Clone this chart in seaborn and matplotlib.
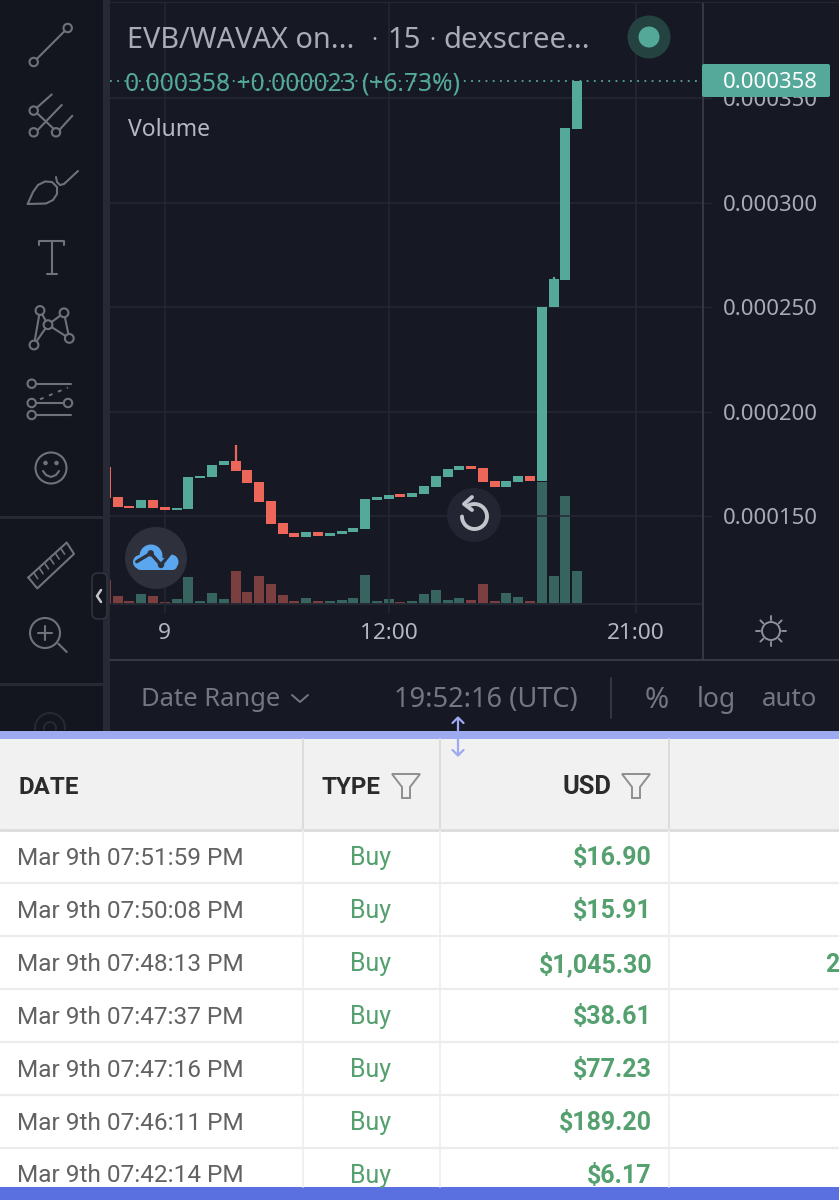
import numpy as np
import pandas as pd
import matplotlib
matplotlib.use("Agg")
import matplotlib.pyplot as plt
from matplotlib.patches import Circle, FancyBboxPatch, Polygon, Rectangle
import seaborn as sns

# candles, price units; index -1 is cut by the left edge
candle_idx = np.arange(-1, 40)
opens = [173.6, 158.9, 154.6, 153.8, 157.5, 154.3, 152.7, 153.2, 168.2, 168.8, 174.2,
         176.2, 172.0, 166.1, 157.0, 146.8, 142.0, 139.8, 142.3, 140.4, 141.4, 142.2,
         143.9, 157.6, 158.3, 160.4, 159.1, 160.5, 163.9, 168.8, 172.0, 173.8, 173.0,
         166.7, 163.9, 166.4, 169.0, 166.6, 250.0, 263.0, 335.4]
closes = [158.8, 154.1, 153.7, 157.5, 153.8, 152.9, 153.8, 168.7, 169.3, 174.6, 176.3,
          171.7, 165.8, 156.7, 146.3, 141.5, 139.8, 142.3, 140.4, 141.7, 142.7, 144.3,
          158.3, 158.9, 160.2, 159.1, 160.8, 164.3, 169.3, 172.3, 173.8, 172.5, 166.4,
          163.9, 166.7, 169.0, 166.6, 250.0, 263.3, 335.7, 358.0]
wick_idx = [10, 37]
wick_high = [184.0, 264.6]
volumes = [23.7, 8.3, 2.7, 9.7, 8.3, 2.3, 5.3, 26.7, 2.7, 10.7, 5.3, 33.3, 12.3, 28.0,
           20.0, 9.0, 2.7, 6.0, 3.3, 2.7, 4.3, 6.0, 29.3, 3.3, 5.3, 2.3, 2.7, 10.0, 13.7,
           4.3, 6.0, 4.3, 20.0, 2.7, 11.0, 6.7, 2.7, 122.3, 27.7, 108.3, 32.7]

price_ticks = [150, 200, 250, 300, 350]
price_labels = ["0.000150", "0.000200", "0.000250", "0.000300", "0.000350"]
time_ticks = [4, 23, 44]
time_labels = ["9", "12:00", "21:00"]
last_price = 358

dates = ["Mar 9th 07:51:59 PM", "Mar 9th 07:50:08 PM", "Mar 9th 07:48:13 PM",
         "Mar 9th 07:47:37 PM", "Mar 9th 07:47:16 PM", "Mar 9th 07:46:11 PM",
         "Mar 9th 07:42:14 PM"]
usd = ["$16.90", "$15.91", "$1,045.30", "$38.61", "$77.23", "$189.20", "$6.17"]

BG = "#161924"
BAR = "#13161f"
GRID = "#252833"
LINE = "#3c3f4a"
GREEN = "#54a99b"
RED = "#ec6659"
VOL_GREEN = "#37645f"
VOL_RED = "#7c3f40"
ICON = "#6f727b"
TEXT = "#a9acb6"
STRIP = "#74777f"
BUY = "#55a06f"
W, H = 839, 1200

sns.set_theme(style="dark")
plt.rcParams["font.family"] = ["Noto Sans", "DejaVu Sans"]

fig = plt.figure(figsize=(W / 100, H / 100), dpi=100, facecolor=BG)

# pixel box of the chart: x 110..703, y 3..613
ax = fig.add_axes([110 / W, 1 - 613 / H, 593 / W, 610 / H])
vol = ax.twinx()
ax.set_zorder(vol.get_zorder() + 1)
ax.patch.set_visible(False)
vol.set_facecolor(BG)

df = pd.DataFrame({"idx": candle_idx, "open": opens, "close": closes, "volume": volumes})
df["up"] = df["close"] >= df["open"]
df["low"] = df[["open", "close"]].min(axis=1)
df["height"] = (df["close"] - df["open"]).abs()

for up, body_col, vol_col in [(True, GREEN, VOL_GREEN), (False, RED, VOL_RED)]:
    part = df[df["up"] == up]
    sns.barplot(data=part, x="idx", y="volume", native_scale=True, color=vol_col,
                saturation=1, width=0.85, errorbar=None, linewidth=0, ax=vol)
    sns.barplot(data=part, x="idx", y="height", bottom=part["low"].values, native_scale=True,
                color=body_col, saturation=1, width=0.85, errorbar=None, linewidth=0, ax=ax)

wick_low = df.set_index("idx").loc[wick_idx, ["open", "close"]].max(axis=1)
wick_cols = [GREEN if df.set_index("idx").loc[i, "up"] else RED for i in wick_idx]
ax.vlines(wick_idx, wick_low, wick_high, colors=wick_cols, lw=1.6)

ax.axhline(last_price, color=GREEN, lw=1.3, ls=(0, (1, 3)), zorder=5)
vol.axhline(0, color=GRID, lw=1.4)

ax.set_xlim(-0.654, 49.68)
ax.set_ylim(103.6, 395.5)
vol.set_ylim(-9, 601)
vol.set_xlabel("")
vol.set_ylabel("")
vol.set_yticks([])
ax.set_xlabel("")
ax.set_ylabel("")

ax.yaxis.tick_right()
ax.set_yticks(price_ticks)
ax.set_yticklabels(price_labels)
ax.set_xticks(time_ticks)
ax.set_xticklabels(time_labels)
ax.grid(True, color=GRID, lw=1.1)
ax.set_axisbelow(True)
ax.tick_params(axis="y", right=True, left=False, length=6.5, width=1, color=GRID, pad=7.5,
               labelcolor=TEXT, labelsize=15.9)
ax.tick_params(axis="x", length=0, pad=7.5, labelcolor="#b4b7c0", labelsize=16.3)
for s in ax.spines.values():
    s.set_visible(False)
for s in vol.spines.values():
    s.set_visible(False)
ax.spines["right"].set_visible(True)
ax.spines["right"].set_color(LINE)
ax.spines["right"].set_linewidth(1.2)

# everything around the chart, in pixel coordinates
ui = fig.add_axes([0, 0, 1, 1], zorder=10)
ui.set_xlim(0, W)
ui.set_ylim(H, 0)
ui.axis("off")


def seg(pts, col=ICON, lw=1.5, **kw):
    pts = np.array(pts)
    ui.plot(pts[:, 0], pts[:, 1], color=col, lw=lw, solid_capstyle="round", **kw)


def ring(x, y, r, col=ICON, lw=1.5, fill="none"):
    ui.add_patch(Circle((x, y), r, ec=col, fc=fill, lw=lw, zorder=3))


def rect(x0, y0, x1, y1, col, **kw):
    ui.add_patch(Rectangle((x0, y0), x1 - x0, y1 - y0, fc=col, ec="none", **kw))


# chrome behind the tools
rect(0, 0, 103, 731, BAR)
rect(103, 0, 110, 731, "#272a35")
rect(0, 516, 103, 519, "#272a35")
rect(0, 683, 103, 686, "#272a35")
seg([(110, 660), (839, 660)], LINE, 1.2)
seg([(703, 613), (703, 660)], LINE, 1.2)
seg([(110, 2), (839, 2)], GRID, 1)
seg([(611, 678), (611, 718)], LINE, 1.2)

# toolbar icons
seg([(33.7, 62), (67.7, 28)])
ring(33.7, 62, 4.2, fill=BAR)
ring(67.7, 28, 4.2, fill=BAR)

seg([(36.7, 107.8), (51.7, 94.5)])
seg([(37.7, 130), (61.7, 105)])
seg([(59.3, 130), (72.3, 115.8)])
seg([(37.3, 113.4), (53.3, 128.5)])
for cx, cy in [(33.7, 110.6), (33.7, 132.3), (56, 132.3)]:
    ring(cx, cy, 4.2, fill=BAR)

seg([(27.7, 204), (33, 192), (38, 185), (45, 181.5), (52, 182), (57, 187), (57, 194),
     (53, 200), (46, 203.5), (27.7, 204)])
seg([(56, 177), (57, 182), (60, 185), (64, 184), (78, 171)])

seg([(39.3, 245), (39.3, 241), (64.3, 241), (64.3, 245)])
seg([(51.7, 241), (51.7, 274)])
seg([(46.7, 274), (56.7, 274)])

star = {"a": (40, 310.5), "b": (64, 312.8), "c": (48, 324.7), "d": (34, 345), "e": (69.3, 338.4)}
for p, q in ["ac", "ad", "cd", "cb", "be", "ce"]:
    seg([star[p], star[q]])
for cx, cy in star.values():
    ring(cx, cy, 4.4, fill=BAR)

seg([(31.7, 383.7), (70.7, 383.7)])
seg([(31.7, 403), (68, 403)])
seg([(31.7, 415), (70.7, 415)])
ui.plot([40, 68], [399.3, 387.5], color=ICON, lw=1.4, ls=(0, (2, 3)))
for cx, cy in [(31.7, 383.7), (31.7, 403), (68, 403), (31.7, 415)]:
    ring(cx, cy, 4.2, fill=BAR)

ring(51, 468, 15.5)
ring(45.5, 463, 1.2, fill=ICON)
ring(56.5, 463, 1.2, fill=ICON)
smile_x = [43, 46, 51, 56, 59]
smile_y = [471, 475, 477, 475, 471]
seg(list(zip(smile_x, smile_y)))

seg([(28.3, 577.5), (66.7, 542.5), (74, 553.9), (37.3, 588.4), (28.3, 577.5)])
for t in [0.14, 0.28, 0.42, 0.56, 0.7, 0.84]:
    bx, by = 28.3 + 38.4 * t, 577.5 - 35 * t
    seg([(bx, by), (bx + 4, by + 6)], lw=1.2)

ring(45, 633, 15)
seg([(58.3, 643.7), (66.7, 652)])
seg([(38, 633), (52, 633)])
seg([(45, 626), (45, 640)])

# half hidden tool icon, cut by the table
for r in [15, 6]:
    ang = np.linspace(0, 2 * np.pi, 80)
    px, py = 50 + r * np.cos(ang), 728 + r * np.sin(ang)
    py[py > 730] = np.nan
    ui.plot(px, py, color="#262934", lw=1.5)

# collapse button
ui.add_patch(FancyBboxPatch((92, 573), 15, 46, boxstyle="round,pad=0,rounding_size=6",
                            fc=BAR, ec="#30333e", lw=1.2, zorder=4))
ui.plot([101, 97, 101], [590, 596, 602], color="#c4c6cc", lw=1.8, zorder=5)

# header texts on the chart
ui.text(127, 40, "EVB/WAVAX on...", color=TEXT, fontsize=20.8, va="center")
ui.text(371, 40, "·", color=TEXT, fontsize=16, va="center")
ui.text(387, 40, "15", color=TEXT, fontsize=21, va="center")
ui.text(429, 40, "·", color=TEXT, fontsize=16, va="center")
ui.text(443, 40, "dexscree...", color=TEXT, fontsize=21, va="center")
ui.add_patch(Circle((649, 37), 21.5, fc="#244340", ec="none"))
ui.add_patch(Circle((649, 37), 10.5, fc="#53a898", ec="none"))
ui.text(125, 84, "0.000358 +0.000023 (+6.73%)", color=GREEN, fontsize=17.7, va="center")
ui.text(128, 130, "Volume", color="#b6b9c2", fontsize=16.5, va="center")

ui.add_patch(FancyBboxPatch((702, 64), 128, 33, boxstyle="round,pad=0,rounding_size=2",
                            fc=GREEN, ec="none", zorder=4))
ui.text(770, 82, "0.000358", color="white", fontsize=15.9, ha="center", va="center", zorder=5)

# floating buttons
ui.add_patch(Circle((156, 558), 31, fc="#2e313c", ec="none", zorder=3))
for cx, cy, r in [(140, 562, 7), (151, 556, 11.5), (171, 562, 7.5)]:
    ui.add_patch(Circle((cx, cy), r, fc="#5aa6ef", ec="none", zorder=4))
ui.add_patch(FancyBboxPatch((136, 558), 41, 12, boxstyle="round,pad=0,rounding_size=5",
                            fc="#5aa6ef", ec="none", zorder=4))
ui.plot([136.7, 150.7, 161, 171.7], [561.7, 553.3, 565, 551.7], color="#2e313c", lw=2.4, zorder=5)
ui.add_patch(Circle((150.7, 553.3), 3.2, fc="#2e313c", ec="none", zorder=5))
ui.add_patch(Circle((161, 565), 3.2, fc="#2e313c", ec="none", zorder=5))

ui.add_patch(Circle((474, 515), 27, fc="#232632", ec="none", zorder=3))
ang = np.deg2rad(np.linspace(-120, 180, 60))
ui.plot(474.5 + 12.5 * np.cos(ang), 516.5 + 12.5 * np.sin(ang), color="#c3c5cc", lw=2.8, zorder=4)
ui.plot([472, 464, 472], [497, 504, 510], color="#c3c5cc", lw=2.8, zorder=4)

# sun icon
ring(771, 631, 9, col="#8d9099", lw=1.4)
for a in np.deg2rad(np.arange(0, 360, 45)):
    seg([(771 + 11 * np.cos(a), 631 + 11 * np.sin(a)), (771 + 15 * np.cos(a), 631 + 15 * np.sin(a))],
        "#8d9099", 1.4)

# bottom strip
ui.text(141, 700, "Date Range", color=STRIP, fontsize=18.4, va="center")
ui.plot([292, 300, 308], [695, 702, 695], color=STRIP, lw=1.4)
ui.text(486, 700, "19:52:16 (UTC)", color=STRIP, fontsize=19.6, ha="center", va="center")
ui.text(657, 700, "%", color=STRIP, fontsize=21, ha="center", va="center")
ui.text(716, 700, "log", color=STRIP, fontsize=19, ha="center", va="center")
ui.text(790, 700, "auto", color=STRIP, fontsize=18.6, ha="center", va="center")

# table
rect(0, 731, W, 739, "#9eaaf0")
rect(0, 739, W, 830, "#f1f1f1")
rect(0, 830, W, 1187, "white")
rect(0, 1187, W, 1200, "#5a6fe0")
for y in [883, 936, 989, 1042, 1095, 1148]:
    seg([(0, y), (W, y)], "#ececec", 1.6)
seg([(0, 830), (W, 830)], "#dcdcdc", 2)
for x in [303, 440, 669]:
    seg([(x, 739), (x, 830)], "#dcdcdc", 1.4)
    seg([(x, 830), (x, 1187)], "#eeeeee", 1.2)

tf = ["Roboto", "DejaVu Sans"]
ui.text(18, 787, "DATE", color="#2b2b2b", fontsize=17.4, fontweight="bold", va="center", family=tf)
ui.text(322, 787, "TYPE", color="#2b2b2b", fontsize=17.4, fontweight="bold", va="center", family=tf)
ui.text(611, 787, "USD", color="#2b2b2b", fontsize=18.4, fontweight="bold", ha="right", va="center", family=tf)
for fx in [406, 636]:
    fun = [(fx - 14, 774), (fx + 14, 774), (fx + 4, 787), (fx + 4, 798), (fx - 4, 798), (fx - 4, 787)]
    ui.add_patch(Polygon(fun, closed=True, fc="none", ec="#8f8f8f", lw=1.4))

for i, (d, u) in enumerate(zip(dates, usd)):
    y = 858.5 + i * 52.9
    ui.text(17, y, d, color="#626262", fontsize=17.6, va="center", family=tf)
    ui.text(371, y, "Buy", color=BUY, fontsize=18, ha="center", va="center", family=tf)
    ui.text(652, y, u, color=BUY, fontsize=18, fontweight="bold", ha="right", va="center", family=tf)
ui.text(825, 964.5, "2", color=BUY, fontsize=18, fontweight="bold", va="center", family=tf)

# resize arrows over the divider
seg([(458, 719), (458, 731)], "#9eaaf0", 1.6)
seg([(452.5, 723), (458, 717.5), (463.5, 723)], "#9eaaf0", 1.6)
seg([(458, 739), (458, 755)], "#9eaaf0", 1.6)
seg([(452.5, 750), (458, 755.5), (463.5, 750)], "#9eaaf0", 1.6)

fig.savefig("out.png", dpi=100, facecolor=fig.get_facecolor())
plt.close(fig)
